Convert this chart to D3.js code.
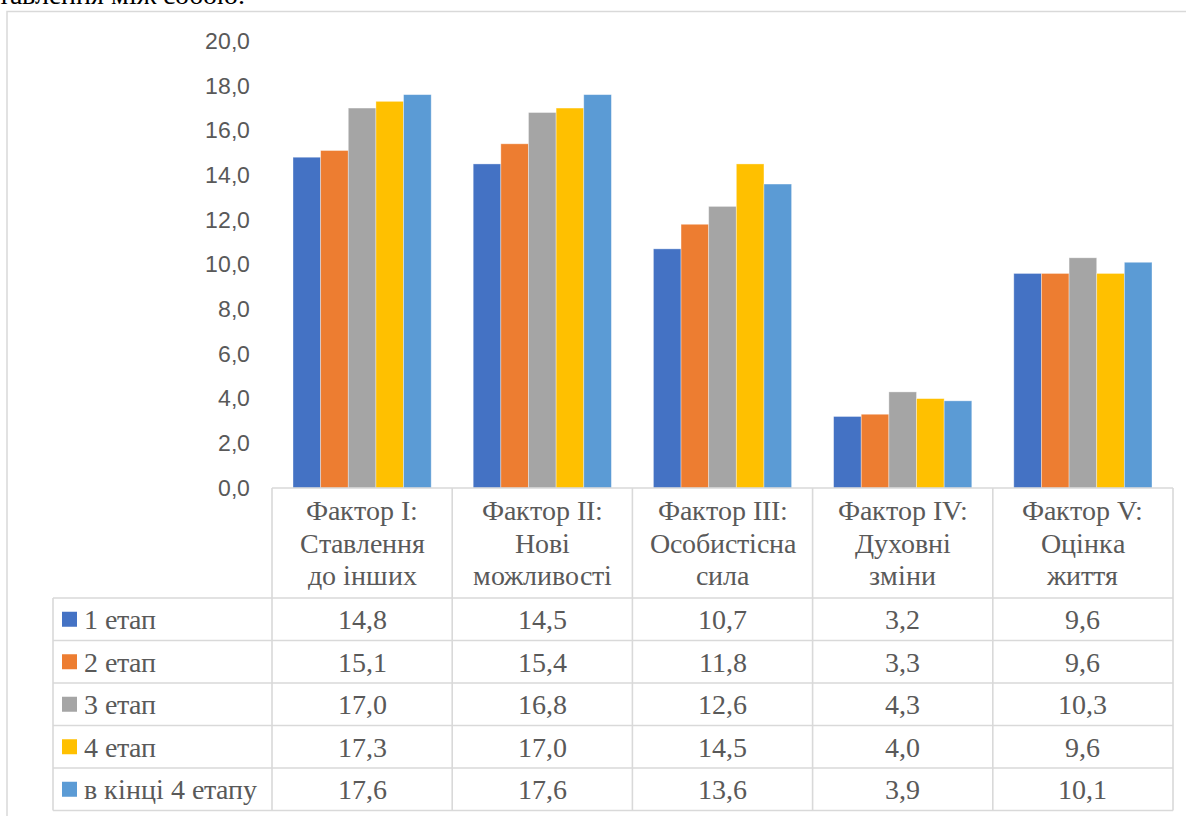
<!DOCTYPE html>
<html>
<head>
<meta charset="utf-8">
<script src="https://cdn.jsdelivr.net/npm/d3@7"></script>
<style>
  @font-face { font-family: "TableSerif"; src: local("Liberation Serif"), local("LiberationSerif"), local("Tinos"), local("Times New Roman"); }
  @font-face { font-family: "AxisSans"; src: local("Carlito"), local("Calibri"), local("Liberation Sans"); }
  body { margin: 0; }
  .tbl { font-family: "TableSerif", "Liberation Serif", Tinos, serif; }
  .ax { font-family: "AxisSans", Carlito, "Liberation Sans", sans-serif; }
</style>
</head>
<body>
<svg id="fig" width="1186" height="816"></svg>
<script>
// Category labels (one entry per line of the header cell)
const categories = [
  ["Фактор I:", "Ставлення", "до інших"],
  ["Фактор II:", "Нові", "можливості"],
  ["Фактор III:", "Особистісна", "сила"],
  ["Фактор IV:", "Духовні", "зміни"],
  ["Фактор V:", "Оцінка", "життя"]
];
const seriesNames = ["1 етап", "2 етап", "3 етап", "4 етап", "в кінці 4 етапу"];
const stage1 = [14.8, 14.5, 10.7, 3.2, 9.6];
const stage2 = [15.1, 15.4, 11.8, 3.3, 9.6];
const stage3 = [17.0, 16.8, 12.6, 4.3, 10.3];
const stage4 = [17.3, 17.0, 14.5, 4.0, 9.6];
const stageEnd = [17.6, 17.6, 13.6, 3.9, 10.1];
const yTicks = [0, 2, 4, 6, 8, 10, 12, 14, 16, 18, 20];

const seriesValues = [stage1, stage2, stage3, stage4, stageEnd];
const colors = ["#4472C4", "#ED7D31", "#A5A5A5", "#FFC000", "#5B9BD5"];

const fmt = v => v.toFixed(1).replace(".", ",");
const gridColor = "#d9d9d9";
const textColor = "#595959";
const tableFont = 28;

const svg = d3.select("#fig");

// Caption line above the chart frame
svg.append("text")
  .attr("class", "tbl")
  .style("font-size", "28px")
  .attr("x", 245).attr("y", 4)
  .attr("text-anchor", "end")
  .attr("fill", "#000")
  .text("ставлення між собою.");

// Chart frame
svg.append("rect")
  .attr("x", 7).attr("y", 11.5)
  .attr("width", 1200).attr("height", 830)
  .attr("fill", "none")
  .attr("stroke", gridColor)
  .attr("stroke-width", 1.5);

// Scales
const tableLeft = 53, plotLeft = 272, plotRight = 1173;
const plotTop = 41, plotBottom = 488;
const x = d3.scaleBand().domain(d3.range(categories.length)).range([plotLeft, plotRight]);
const gap = 21;
const x1 = d3.scaleBand().domain(d3.range(seriesNames.length)).range([gap, x.bandwidth() - gap]);
const y = d3.scaleLinear().domain([0, 20]).range([plotBottom, plotTop]);

// Y axis labels
const yAxis = svg.append("g")
  .attr("transform", "translate(250,0)")
  .call(d3.axisLeft(y).tickValues(yTicks).tickFormat(fmt).tickSize(0).tickPadding(0));
yAxis.attr("font-family", null).attr("font-size", null);
yAxis.select(".domain").remove();
yAxis.selectAll("text")
  .attr("class", "ax")
  .style("font-size", "23px")
  .attr("fill", textColor);

// Bars
const groups = svg.append("g").selectAll("g")
  .data(seriesValues)
  .join("g")
  .attr("fill", (d, i) => colors[i]);

groups.each(function(vals, si) {
  d3.select(this).selectAll("rect")
    .data(vals)
    .join("rect")
    .attr("x", (v, ci) => x(ci) + x1(si))
    .attr("y", v => y(v))
    .attr("width", x1.bandwidth())
    .attr("height", v => y(0) - y(v))
    .attr("stroke", "#fff")
    .attr("stroke-opacity", 0.45)
    .attr("stroke-width", 0.8);
});

// Data table
const headerBottom = 598;
const rowH = (810.5 - headerBottom) / seriesNames.length;
const table = svg.append("g")
  .attr("stroke", gridColor)
  .attr("stroke-width", 1.6)
  .attr("fill", "none");

table.append("line").attr("x1", plotLeft).attr("x2", plotRight).attr("y1", plotBottom).attr("y2", plotBottom);
d3.range(seriesNames.length + 1).forEach(i => {
  const yy = headerBottom + i * rowH;
  table.append("line").attr("x1", tableLeft).attr("x2", plotRight).attr("y1", yy).attr("y2", yy);
});
table.append("line").attr("x1", tableLeft).attr("x2", tableLeft).attr("y1", headerBottom).attr("y2", 810.5);
d3.range(categories.length + 1).forEach(i => {
  const xx = plotLeft + i * x.bandwidth();
  table.append("line").attr("x1", xx).attr("x2", xx).attr("y1", plotBottom).attr("y2", 810.5);
});

// Category header cells
categories.forEach((lines, ci) => {
  lines.forEach((ln, li) => {
    svg.append("text")
      .attr("class", "tbl")
      .style("font-size", tableFont + "px")
      .attr("text-anchor", "middle")
      .attr("fill", textColor)
      .attr("x", x(ci) + x.bandwidth() / 2)
      .attr("y", 520 + li * 32.5)
      .text(ln);
  });
});

// Legend + value rows
seriesNames.forEach((name, si) => {
  const top = headerBottom + si * rowH;
  svg.append("rect")
    .attr("x", 62).attr("y", top + rowH / 2 - 7.5)
    .attr("width", 15).attr("height", 15)
    .attr("fill", colors[si]);
  svg.append("text")
    .attr("class", "tbl")
    .style("font-size", tableFont + "px")
    .attr("x", 84).attr("y", top + rowH / 2 + 10)
    .attr("fill", textColor)
    .text(name);
  seriesValues[si].forEach((v, ci) => {
    svg.append("text")
      .attr("class", "tbl")
      .style("font-size", tableFont + "px")
      .attr("x", x(ci) + x.bandwidth() / 2)
      .attr("y", top + rowH / 2 + 10)
      .attr("text-anchor", "middle")
      .attr("fill", textColor)
      .text(fmt(v));
  });
});
</script>
</body>
</html>
